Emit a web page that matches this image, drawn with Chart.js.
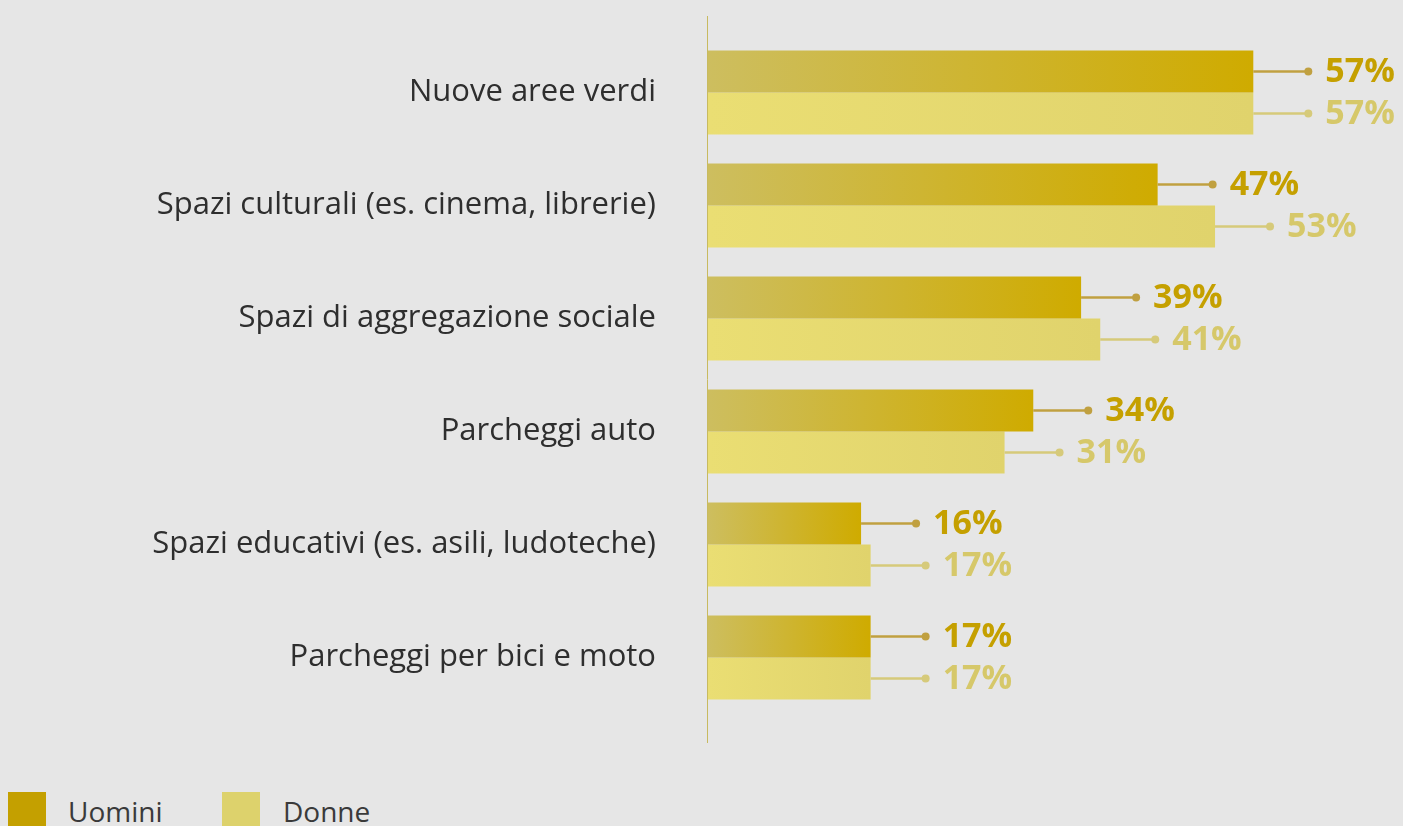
<!DOCTYPE html>
<html>
<head>
<meta charset="utf-8">
<script src="https://cdn.jsdelivr.net/npm/chart.js@4/dist/chart.umd.min.js"></script>
<style>
  html, body { margin: 0; padding: 0; background: #e6e6e6; overflow: hidden; }
  #wrap { position: relative; width: 1403px; height: 780px; }
  .legend { position: absolute; top: 792px; left: 8px; font-family: "Open Sans", sans-serif; font-size: 28px; color: #3a3a3a; }
  .legend span.box { position: absolute; top: 0; width: 38px; height: 38px; }
  .legend span.txt { position: absolute; top: 0; white-space: nowrap; line-height: 38px; }
</style>
</head>
<body>
<div id="wrap"><canvas id="chart"></canvas></div>
<div class="legend">
  <span class="box" style="left:0;background:#c4a000"></span><span class="txt" style="left:60px">Uomini</span>
  <span class="box" style="left:214px;background:#ddd26c"></span><span class="txt" style="left:275px">Donne</span>
</div>
<script>
const categories = [
  'Nuove aree verdi',
  'Spazi culturali (es. cinema, librerie)',
  'Spazi di aggregazione sociale',
  'Parcheggi auto',
  'Spazi educativi (es. asili, ludoteche)',
  'Parcheggi per bici e moto'
];
const uomini = [57, 47, 39, 34, 16, 17];
const donne = [57, 53, 41, 31, 17, 17];

const seriesStyle = {
  Uomini: { from: 'rgb(205,190,95)', to: 'rgb(207,171,0)', line: 'rgb(192,160,64)', text: 'rgb(197,160,0)' },
  Donne: { from: 'rgb(234,222,115)', to: 'rgb(224,211,108)', line: 'rgb(214,202,122)', text: 'rgb(214,200,106)' }
};

function barGradient(ctx, name) {
  const chart = ctx.chart;
  const st = seriesStyle[name];
  if (!chart.chartArea || !chart.scales.x) return st.to;
  const x = chart.scales.x;
  const x0 = x.getPixelForValue(0);
  const x1 = x.getPixelForValue(ctx.raw);
  const g = chart.ctx.createLinearGradient(x0, 0, Math.max(x1, x0 + 1), 0);
  g.addColorStop(0, st.from);
  g.addColorStop(1, st.to);
  return g;
}

// leader lines, dots and percentage labels
const leaderPlugin = {
  id: 'leaders',
  afterDatasetsDraw(chart) {
    const c = chart.ctx;
    chart.data.datasets.forEach((ds, di) => {
      const st = seriesStyle[ds.label];
      chart.getDatasetMeta(di).data.forEach((bar, i) => {
        const xe = bar.x, y = bar.y;
        c.save();
        c.strokeStyle = st.line;
        c.lineWidth = 2.5;
        c.beginPath();
        c.moveTo(xe, y);
        c.lineTo(xe + 55, y);
        c.stroke();
        c.fillStyle = st.line;
        c.beginPath();
        c.arc(xe + 55, y, 4, 0, Math.PI * 2);
        c.fill();
        c.fillStyle = st.text;
        c.font = 'bold 34px "Open Sans", sans-serif';
        c.textBaseline = 'middle';
        c.textAlign = 'left';
        c.fillText(ds.data[i] + '%', xe + 72, y + 1);
        c.restore();
      });
    });
  }
};

// thin vertical baseline
const baselinePlugin = {
  id: 'baseline',
  afterDatasetsDraw(chart) {
    const c = chart.ctx;
    const x0 = Math.round(chart.scales.x.getPixelForValue(0)) - 0.5;
    c.save();
    c.strokeStyle = 'rgb(200,186,96)';
    c.lineWidth = 1;
    c.beginPath();
    c.moveTo(x0, chart.chartArea.top - 20);
    c.lineTo(x0, chart.chartArea.bottom + 29);
    c.stroke();
    c.restore();
  }
};

new Chart(document.getElementById('chart'), {
  type: 'bar',
  data: {
    labels: categories,
    datasets: [
      { label: 'Uomini', data: uomini, backgroundColor: ctx => barGradient(ctx, 'Uomini') },
      { label: 'Donne', data: donne, backgroundColor: ctx => barGradient(ctx, 'Donne') }
    ]
  },
  options: {
    indexAxis: 'y',
    responsive: true,
    maintainAspectRatio: false,
    animation: false,
    layout: { padding: { top: 36, bottom: 66, left: 0, right: 121 } },
    datasets: { bar: { barPercentage: 1, categoryPercentage: 0.743 } },
    plugins: { legend: { display: false }, tooltip: { enabled: false } },
    scales: {
      x: { display: false, min: 0, max: 60 },
      y: {
        grid: { display: false, drawTicks: false },
        border: { display: false },
        ticks: {
          padding: 52,
          color: '#2e2e2e',
          font: { family: '"Open Sans", sans-serif', size: 31 }
        },
        afterFit(scale) {
          scale.width = 708;
          scale.paddingTop = 0;
          scale.paddingBottom = 0;
        }
      }
    }
  },
  plugins: [leaderPlugin, baselinePlugin]
});
</script>
</body>
</html>
